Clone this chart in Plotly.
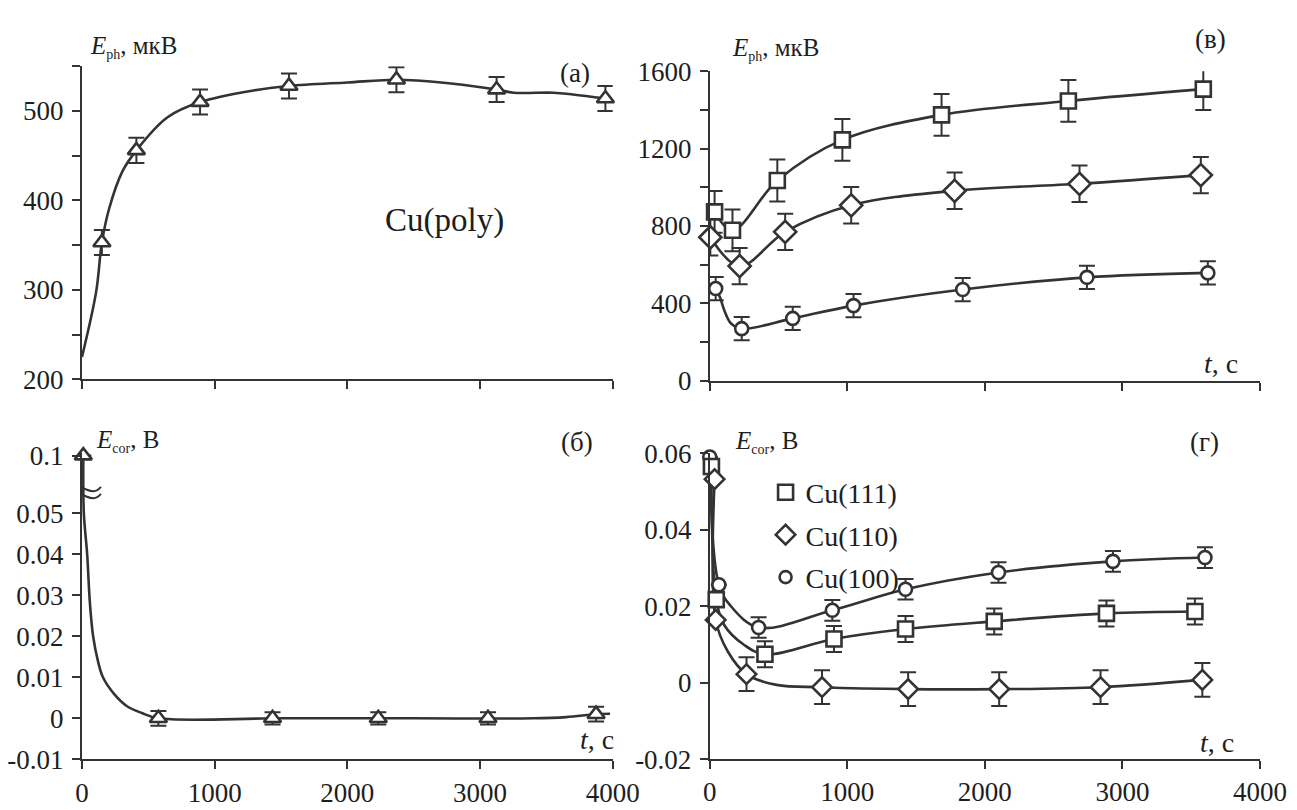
import plotly.graph_objects as go

# ---------------- data ----------------
# (а) Cu(poly), E_ph, мкВ
A_T = [150, 410, 890, 1560, 2370, 3125, 3945]
A_E = [353, 456, 510, 528, 535, 524, 514]
A_ERR = [14, 14, 14, 14, 14, 14, 14]
A_CURVE_T = [0, 107, 150, 205, 303, 410, 645, 890, 1292, 1560, 2000, 2370, 2627, 3125, 3254, 3552, 3701, 3945]
A_CURVE_E = [225, 298, 353, 391, 432, 456, 493, 510, 523, 528, 532, 535, 533, 524, 520.5, 520.5, 518.5, 514]

# (б) Cu(poly), E_cor, В
B_T = [10, 576, 1436, 2233, 3060, 3875]
B_E = [0.1, 0, 0, 0, 0, 0.001]
B_ERR = [0, 0.0018, 0.0015, 0.0015, 0.0015, 0.0018]
B_CURVE_T = [10, 14, 39, 60, 84, 120, 158, 248, 337, 450, 576, 1500, 2500, 3400, 3650, 3875, 3980]
B_CURVE_E = [0.1, 0.05, 0.04, 0.028, 0.02, 0.014, 0.01, 0.0057, 0.003, 0.0013, 0, 0, 0, 0, 0.0003, 0.001, 0.0011]

# (в) E_ph, мкВ for single crystals
C_SQ_T = [35, 165, 491, 964, 1685, 2607, 3588]
C_SQ_E = [873, 778, 1035, 1245, 1374, 1446, 1507]
C_SQ_ERR = [108, 108, 108, 108, 108, 108, 108]
C_DI_T = [4, 217, 548, 1028, 1780, 2688, 3570]
C_DI_E = [742, 593, 770, 907, 982, 1018, 1063]
C_DI_ERR = [94, 94, 94, 94, 94, 94, 94]
C_CI_T = [43, 232, 603, 1045, 1839, 2742, 3621]
C_CI_E = [477, 270, 323, 389, 472, 535, 558]
C_CI_ERR = [60, 60, 60, 60, 60, 60, 60]
C_CI_CURVE_T = [43, 75, 106, 153, 232, 603, 1045, 1839, 2742, 3621]
C_CI_CURVE_E = [477, 431, 364, 298, 270, 323, 389, 472, 535, 558]

# (г) E_cor, В for single crystals
D_SQ_T = [12, 47, 401, 903, 1423, 2068, 2884, 3527]
D_SQ_E = [0.0565, 0.0217, 0.0074, 0.0114, 0.0140, 0.0160, 0.0181, 0.0186]
D_SQ_ERR = [0, 0, 0.0034, 0.0034, 0.0034, 0.0034, 0.0034, 0.0034]
D_DI_T = [35, 43, 267, 816, 1442, 2104, 2841, 3581]
D_DI_E = [0.0532, 0.0164, 0.0022, -0.0012, -0.0017, -0.0017, -0.0012, 0.0007]
D_DI_ERR = [0, 0, 0.0044, 0.0044, 0.0044, 0.0044, 0.0044, 0.0044]
D_CI_T = [0, 66, 355, 891, 1423, 2099, 2931, 3600]
D_CI_E = [0.059, 0.0256, 0.0144, 0.0189, 0.0244, 0.0288, 0.0317, 0.0327]
D_CI_ERR = [0, 0, 0.0027, 0.0027, 0.0027, 0.0027, 0.0027, 0.0027]
D_SQ_CURVE_T = [12, 47, 106, 248, 401, 903, 1423, 2068, 2884, 3527]
D_SQ_CURVE_E = [0.0565, 0.0217, 0.015, 0.0099, 0.0074, 0.0114, 0.0140, 0.0160, 0.0181, 0.0186]
D_DI_CURVE_T = [35, 43, 130, 267, 485, 816, 1442, 2104, 2841, 3581]
D_DI_CURVE_E = [0.0532, 0.0164, 0.0082, 0.0022, -0.0006, -0.0012, -0.0017, -0.0017, -0.0012, 0.0007]
D_CI_CURVE_T = [0, 66, 153, 355, 891, 1423, 2099, 2931, 3600]
D_CI_CURVE_E = [0.059, 0.0256, 0.020, 0.0144, 0.0189, 0.0244, 0.0288, 0.0317, 0.0327]

X_TICKS = [0, 1000, 2000, 3000, 4000]
X_LABELS = ["0", "1000", "2000", "3000", "4000"]
YA_TICKS = [200, 300, 400, 500]
YA_MINOR = [250, 350, 450, 550]
YC_TICKS = [0, 400, 800, 1200, 1600]
YC_MINOR = [200, 600, 1000, 1400]
YB_TICKS = [-0.01, 0, 0.01, 0.02, 0.03, 0.04, 0.05, 0.1]
YB_LABELS = ["-0.01", "0", "0.01", "0.02", "0.03", "0.04", "0.05", "0.1"]
YD_TICKS = [-0.02, 0, 0.02, 0.04, 0.06]
YD_LABELS = ["-0.02", "0", "0.02", "0.04", "0.06"]

# ---------------- style ----------------
INK = "#333333"
TXT = "#1e1e1e"
FONT = "Liberation Serif, Times New Roman, serif"
TICK_SIZE = 27
BREAK_FROM = 0.06      # values above this are drawn on the broken part of axis (б)
BREAK_POS = 0.064      # where the broken-off value sits on axis (б)
BREAK_MARK = 0.0554    # where the break symbol is drawn


def brk(v):
    return BREAK_POS if v > BREAK_FROM else v


fig = go.Figure()


def curve(x, y, xa, ya):
    fig.add_trace(go.Scatter(x=x, y=y, xaxis=xa, yaxis=ya, mode="lines",
                             line=dict(color=INK, width=2.6, shape="spline", smoothing=1.0),
                             showlegend=False, hoverinfo="skip", cliponaxis=False))


def marks(x, y, err, xa, ya, symbol, size, name=None, legend=False):
    fig.add_trace(go.Scatter(x=x, y=y, xaxis=xa, yaxis=ya, mode="markers", name=name,
                             legendgroup=name,
                             marker=dict(symbol=symbol, size=size, color="white",
                                         line=dict(color=INK, width=2.6)),
                             error_y=dict(type="data", array=err, visible=True,
                                          color=INK, thickness=2, width=8),
                             showlegend=legend, cliponaxis=False))


# (а)
curve(A_CURVE_T, A_CURVE_E, "x", "y")
marks(A_T, A_E, A_ERR, "x", "y", "triangle-up", 15)
# (б)
curve(B_CURVE_T, [brk(v) for v in B_CURVE_E], "x3", "y3")
marks(B_T, [brk(v) for v in B_E], B_ERR, "x3", "y3", "triangle-up", 15)
# (в)
curve(C_SQ_T, C_SQ_E, "x2", "y2")
curve(C_DI_T, C_DI_E, "x2", "y2")
curve(C_CI_CURVE_T, C_CI_CURVE_E, "x2", "y2")
marks(C_SQ_T, C_SQ_E, C_SQ_ERR, "x2", "y2", "square", 15)
marks(C_DI_T, C_DI_E, C_DI_ERR, "x2", "y2", "diamond", 17)
marks(C_CI_T, C_CI_E, C_CI_ERR, "x2", "y2", "circle", 13)
# (г)
curve(D_SQ_CURVE_T, D_SQ_CURVE_E, "x4", "y4")
curve(D_DI_CURVE_T, D_DI_CURVE_E, "x4", "y4")
curve(D_CI_CURVE_T, D_CI_CURVE_E, "x4", "y4")
marks(D_CI_T, D_CI_E, D_CI_ERR, "x4", "y4", "circle", 13)
marks(D_SQ_T, D_SQ_E, D_SQ_ERR, "x4", "y4", "square", 15, "Cu(111)", True)
marks(D_DI_T, D_DI_E, D_DI_ERR, "x4", "y4", "diamond", 15, "Cu(110)", True)
# legend entry for circles (last in order)
fig.add_trace(go.Scatter(x=[None], y=[None], xaxis="x4", yaxis="y4", mode="markers", name="Cu(100)",
                         legendgroup="Cu(100)",
                         marker=dict(symbol="circle", size=12, color="white", line=dict(color=INK, width=2.6)),
                         showlegend=True))

axis_common = dict(showline=True, linecolor=INK, linewidth=2, ticks="outside", ticklen=8,
                   tickwidth=2, tickcolor=INK, showgrid=False, zeroline=False,
                   tickfont=dict(family=FONT, size=TICK_SIZE, color=TXT), fixedrange=True)
minor_common = dict(ticks="outside", ticklen=8, tickwidth=2, tickcolor=INK, showgrid=False)

LEFT = [77 / 1297, 622 / 1297]
RIGHT = [721.7 / 1297, 1286.7 / 1297]

fig.update_layout(
    width=1297, height=810, margin=dict(l=0, r=0, t=0, b=0),
    paper_bgcolor="white", plot_bgcolor="white",
    font=dict(family=FONT, size=TICK_SIZE, color=TXT),
    xaxis=dict(axis_common, domain=LEFT, range=[0, 4000], tickvals=X_TICKS, showticklabels=False, anchor="y"),
    yaxis=dict(axis_common, domain=[1 - 378.3 / 810, 1 - 53.3 / 810], range=[200, 550],
               tickvals=YA_TICKS, minor=dict(minor_common, tickvals=YA_MINOR),
               anchor="x", ticklabelstandoff=3),
    xaxis2=dict(axis_common, domain=RIGHT, range=[0, 4000], tickvals=X_TICKS, showticklabels=False, anchor="y2"),
    yaxis2=dict(axis_common, domain=[1 - 380 / 810, 1 - 58.3 / 810], range=[0, 1600],
                tickvals=YC_TICKS, minor=dict(minor_common, tickvals=YC_MINOR),
                anchor="x2", ticklabelstandoff=3),
    xaxis3=dict(axis_common, domain=LEFT, range=[0, 4000], tickvals=X_TICKS, ticktext=X_LABELS, anchor="y3"),
    yaxis3=dict(axis_common, domain=[1 - 773 / 810, 1 - 455 / 810], range=[-0.01, 0.0646],
                tickvals=[brk(v) for v in YB_TICKS], ticktext=YB_LABELS, anchor="x3", ticklabelstandoff=3),
    xaxis4=dict(axis_common, domain=RIGHT, range=[0, 4000], tickvals=X_TICKS, ticktext=X_LABELS, anchor="y4"),
    yaxis4=dict(axis_common, domain=[1 - 772.7 / 810, 1 - 455 / 810], range=[-0.02, 0.06],
                tickvals=YD_TICKS, ticktext=YD_LABELS, anchor="x4", ticklabelstandoff=3),
    legend=dict(x=779 / 1297, y=1 - 470 / 810, xanchor="left", yanchor="top",
                font=dict(family=FONT, size=28, color=TXT), bgcolor="rgba(0,0,0,0)",
                traceorder="grouped", tracegroupgap=3, itemwidth=30),
    showlegend=True,
)


def note(text, px, py, size=25, anchor="left"):
    fig.add_annotation(text=text, x=px / 1297, y=1 - py / 810, xref="paper", yref="paper",
                       xanchor=anchor, yanchor="middle", showarrow=False,
                       font=dict(family=FONT, size=size, color=TXT))


EPH = "<i>E</i><sub><span style='font-size:14px'>ph</span></sub>, мкВ"
ECOR = "<i>E</i><sub><span style='font-size:14px'>cor</span></sub>, В"
TLAB = "<i>t</i>, с"

note(EPH, 83, 33, 25)
note("(а)", 583, 60, 27, "center")
note("Cu(poly)", 449, 213, 33, "center")
note(ECOR, 89, 442, 25)
note("(б)", 585, 443, 27, "center")
note(TLAB, 625, 752, 28, "right")
note(EPH, 742, 35, 25)
note("(в)", 1236, 25, 27, "center")
note(TLAB, 1266, 362, 28, "right")
note(ECOR, 746, 443, 25)
note("(г)", 1230, 443, 27, "center")
note(TLAB, 1262, 755, 28, "right")

# axis break symbol on (б)
fig.add_shape(type="path", xref="x3", yref="y3", xsizemode="pixel", ysizemode="pixel",
              xanchor=0, yanchor=BREAK_MARK,
              path="M-19,1 C-12,9 -7,5 0,3 S12,-4 19,4 M-19,-6 C-12,2 -7,-2 0,-4 S12,-11 19,-3",
              line=dict(color=INK, width=2))

fig.write_html("out.html")
